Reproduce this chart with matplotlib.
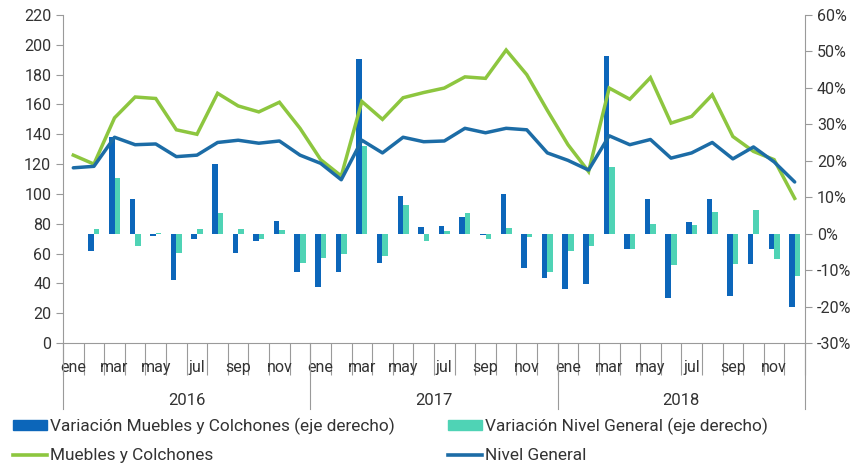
import numpy as np
import matplotlib
matplotlib.use('Agg')
import matplotlib.pyplot as plt
from matplotlib.patches import Patch
from matplotlib.lines import Line2D
from matplotlib.ticker import FuncFormatter, FixedLocator

plt.rcParams.update({
    'font.family': ['Roboto', 'DejaVu Sans'],
    'font.size': 11,
    'axes.linewidth': 0.8,
})

MONTHS = ['ene', 'feb', 'mar', 'abr', 'may', 'jun',
          'jul', 'ago', 'sep', 'oct', 'nov', 'dic']
YEARS = ['2016', '2017', '2018']

# Índices (eje izquierdo)
muebles = [126, 120, 151, 165, 164, 143, 140, 167.5, 159, 155, 161.5, 144,
           123, 112, 162, 150, 164.5, 168, 171, 178.5, 177.5, 196.5, 180, 156,
           133, 115, 171, 163.5, 178, 147.5, 152, 166.5, 138.5, 128.5, 123, 97]
nivel = [117.5, 118.5, 138, 133, 133.5, 125, 126, 134.5, 136, 134, 135.5, 126,
         120.5, 109.5, 136, 127.5, 138, 135, 135.5, 144, 141, 144, 143, 127.5,
         122.5, 116, 139, 133, 136.5, 124, 127.5, 134.5, 123.5, 131.5, 121.5, 108]

# Variaciones (eje derecho, fracción)
var_muebles = [np.nan, -0.048, 0.265, 0.096, -0.007, -0.126, -0.016, 0.192, -0.053, -0.020, 0.036, -0.105,
               -0.147, -0.105, 0.478, -0.081, 0.102, 0.018, 0.020, 0.046, -0.005, 0.110, -0.094, -0.122,
               -0.151, -0.137, 0.487, -0.041, 0.094, -0.176, 0.032, 0.094, -0.170, -0.084, -0.041, -0.200]
var_nivel = [np.nan, 0.014, 0.153, -0.035, 0.003, -0.053, 0.014, 0.057, 0.014, -0.016, 0.011, -0.081,
             -0.066, -0.055, 0.240, -0.062, 0.080, -0.020, 0.006, 0.057, -0.016, 0.016, -0.009, -0.105,
             -0.048, -0.035, 0.183, -0.041, 0.027, -0.087, 0.025, 0.059, -0.084, 0.064, -0.069, -0.116]

C_BAR_M = '#0C66BA'
C_BAR_N = '#4FD3B5'
C_MUEB = '#8DC63F'
C_NIV = '#1C6CA6'
C_AXIS = '#9A9A9A'
C_TEXT = '#333333'

n = len(muebles)
x = np.arange(n)

fig = plt.figure(figsize=(8.57, 4.65), dpi=100)
ax = fig.add_axes([63 / 857, 1 - 343 / 465, (805 - 63) / 857, (343 - 15) / 465])
ax2 = ax.twinx()

bw = 0.27
ax2.bar(x - bw / 2, var_muebles, width=bw, color=C_BAR_M, zorder=2)
ax2.bar(x + bw / 2, var_nivel, width=bw, color=C_BAR_N, zorder=2)
ax2.set_ylim(-0.30, 0.60)
ax2.set_yticks(np.arange(-0.3, 0.61, 0.1))
ax2.yaxis.set_major_formatter(FuncFormatter(lambda v, p: f'{v * 100:.0f}%'))

ax.plot(x, muebles, color=C_MUEB, lw=2.5, solid_joinstyle='miter', zorder=3)
ax.plot(x, nivel, color=C_NIV, lw=2.5, solid_capstyle='round', zorder=3)
ax.set_ylim(0, 220)
ax.set_yticks(np.arange(0, 221, 20))
ax.set_xlim(-0.5, n - 0.5)

# lines above the bars
ax.set_zorder(ax2.get_zorder() + 1)
ax.patch.set_visible(False)

for a in (ax, ax2):
    a.spines['top'].set_visible(False)
    for s in ('left', 'right', 'bottom'):
        a.spines[s].set_color(C_AXIS)
ax.spines['right'].set_visible(False)
ax2.spines['left'].set_visible(False)
ax2.spines['bottom'].set_visible(False)

ax.tick_params(axis='y', colors=C_AXIS, labelcolor=C_TEXT, length=5, labelsize=11.5)
ax2.tick_params(axis='y', colors=C_AXIS, labelcolor=C_TEXT, length=5, labelsize=11.5)

# month boundaries as long ticks, month names at odd months
ax.xaxis.set_major_locator(FixedLocator(np.arange(-0.5, n, 1.0)))
ax.tick_params(axis='x', which='major', length=23, width=0.8, color=C_AXIS,
               labelbottom=False)
ax.set_xticks(x[::2], [MONTHS[i % 12] for i in x[::2]], minor=True)
ax.tick_params(axis='x', which='minor', length=0, pad=12, labelsize=11.5, labelcolor=C_TEXT)

# year separators and labels
trans = ax.get_xaxis_transform()
for k in range(len(YEARS) + 1):
    ax.plot([k * 12 - 0.5] * 2, [0, -0.2], transform=trans, color=C_AXIS,
            lw=0.8, clip_on=False)
for k, yr in enumerate(YEARS):
    ax.text(k * 12 + 5.5, -0.174, yr, transform=trans, ha='center', va='center',
            fontsize=12, color=C_TEXT)

handles = [Patch(color=C_BAR_M), Line2D([], [], color=C_MUEB, lw=2.6),
           Patch(color=C_BAR_N), Line2D([], [], color=C_NIV, lw=2.6)]
labels = ['Variación Muebles y Colchones (eje derecho)', 'Muebles y Colchones',
          'Variación Nivel General (eje derecho)', 'Nivel General']
fig.legend(handles, labels, ncol=2, loc='upper left', bbox_to_anchor=(0.015, 0.101),
           frameon=False, fontsize=12.4, handlelength=2.0, handleheight=0.5,
           handletextpad=0.15, labelspacing=0.74, columnspacing=3.1,
           borderaxespad=0, borderpad=0, labelcolor=C_TEXT)

fig.savefig('out.png', dpi=100, facecolor='white')
